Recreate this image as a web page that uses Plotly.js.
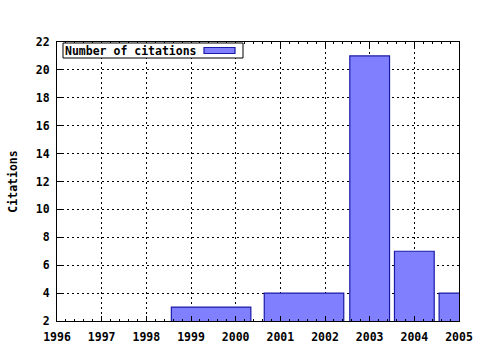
<!DOCTYPE html>
<html>
<head>
<meta charset="utf-8">
<script src="https://cdn.plot.ly/plotly-3.0.1.min.js"></script>
<style>html,body{margin:0;padding:0;background:#fff;}#chart{width:480px;height:350px;}</style>
</head>
<body>
<div id="chart"></div>
<script>
// Data
const seriesName = "Number of citations";
const barCenters = [1999.45, 2001.53, 2003, 2004, 2005];
const barWidths = [1.78, 1.78, 0.89, 0.89, 0.89];
const citations = [3, 4, 21, 7, 4];
const xTickVals = [1996, 1997, 1998, 1999, 2000, 2001, 2002, 2003, 2004, 2005];
const yTickVals = [2, 4, 6, 8, 10, 12, 14, 16, 18, 20, 22];

const FONT = "'DejaVu Sans Mono', 'Liberation Mono', monospace";
const tickFont = {family: FONT, size: 11.5, color: '#000', weight: 'bold'};

const trace = {
  type: 'bar',
  name: seriesName,
  x: barCenters,
  y: citations,
  width: barWidths,
  marker: {color: '#8080ff', line: {color: '#1a1aa6', width: 1.2}},
  showlegend: false,
  hoverinfo: 'x+y'
};

const layout = {
  width: 480, height: 350,
  margin: {l: 57, r: 21, t: 42, b: 29},
  paper_bgcolor: '#fff', plot_bgcolor: '#fff',
  font: {family: FONT, size: 11.5, color: '#000'},
  xaxis: {
    range: [1996, 2005],
    tickvals: xTickVals,
    ticktext: xTickVals.map(String),
    tickfont: tickFont,
    ticks: 'inside', ticklen: 5, tickwidth: 1, tickcolor: '#000',
    showline: true, linecolor: '#000', linewidth: 1, mirror: 'allticks',
    showgrid: true, gridcolor: '#000', gridwidth: 1, griddash: '2px,3px',
    ticklabelstandoff: 5,
    minor: {dtick: 0.2, ticks: 'inside', ticklen: 2, tickcolor: '#000', showgrid: false},
    zeroline: false, fixedrange: true
  },
  yaxis: {
    range: [2, 22],
    tickvals: yTickVals,
    ticktext: yTickVals.map(String),
    tickfont: tickFont,
    ticks: 'inside', ticklen: 5, tickwidth: 1, tickcolor: '#000',
    showline: true, linecolor: '#000', linewidth: 1, mirror: true,
    showgrid: true, gridcolor: '#000', gridwidth: 1, griddash: '2px,3px',
    ticklabelstandoff: 4,
    title: {text: 'Citations', font: {family: FONT, size: 11.5, color: '#000', weight: 'bold'}, standoff: 15},
    zeroline: false, fixedrange: true
  },
  shapes: [
    {type: 'rect', xref: 'paper', yref: 'paper',
     x0: (63 - 57) / 402, x1: (243 - 57) / 402,
     y0: (321 - 58) / 279, y1: (321 - 43) / 279,
     line: {color: '#000', width: 1}, fillcolor: '#fff', layer: 'above'},
    {type: 'rect', xref: 'paper', yref: 'paper',
     x0: (204 - 57) / 402, x1: (235 - 57) / 402,
     y0: (321 - 53.5) / 279, y1: (321 - 47.5) / 279,
     line: {color: '#1a1aa6', width: 1.2}, fillcolor: '#8080ff', layer: 'above'}
  ],
  annotations: [
    {xref: 'paper', yref: 'paper',
     x: (63 - 57) / 402, y: (321 - 50.5) / 279,
     xanchor: 'left', yanchor: 'middle', showarrow: false,
     text: seriesName,
     font: {family: FONT, size: 11.5, color: '#000', weight: 'bold'}}
  ],
  bargap: 0
};

Plotly.newPlot('chart', [trace], layout, {displayModeBar: false, staticPlot: true});
</script>
</body>
</html>
